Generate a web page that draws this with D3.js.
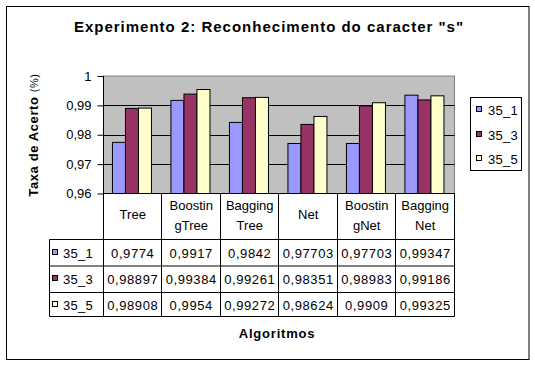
<!DOCTYPE html>
<html>
<head>
<meta charset="utf-8">
<script src="https://cdn.jsdelivr.net/npm/d3@7"></script>
<style>
  body { margin: 0; background: #fff; }
  svg { font-family: "Liberation Sans", Arial, sans-serif; }
</style>
</head>
<body>
<svg id="chart" width="535" height="384"></svg>
<script>
// dados
var categorias = ["Tree", "BoostingTree", "BaggingTree", "Net", "BoostingNet", "BaggingNet"];
var rotulos = [["Tree"], ["Boostin", "gTree"], ["Bagging", "Tree"], ["Net"], ["Boostin", "gNet"], ["Bagging", "Net"]];
var series = ["35_1", "35_3", "35_5"];
var v35_1 = [0.9774, 0.9917, 0.9842, 0.97703, 0.97703, 0.99347];
var v35_3 = [0.98897, 0.99384, 0.99261, 0.98351, 0.98983, 0.99186];
var v35_5 = [0.98908, 0.9954, 0.99272, 0.98624, 0.9909, 0.99325];
var yTicks = [0.96, 0.97, 0.98, 0.99, 1];
var cores = ["#9999FF", "#993366", "#FFFFCC"];

var valores = [v35_1, v35_3, v35_5];

var svg = d3.select("#chart");

// moldura externa
svg.append("rect")
    .attr("x", 6.5).attr("y", 6.5)
    .attr("width", 522.5).attr("height", 353)
    .style("fill", "#fff").style("stroke", "#000").style("stroke-width", 1);

var plotL = 103.5, plotR = 454.5, plotT = 76, plotB = 193.5;

var x0 = d3.scaleBand()
    .domain(categorias)
    .range([plotL, plotR])
    .paddingInner(0.333)
    .paddingOuter(0.1667);
var step = x0.step();

var x1 = d3.scaleBand()
    .domain(series)
    .range([0, x0.bandwidth()]);

var y = d3.scaleLinear()
    .domain([0.96, 1])
    .range([plotB, plotT]);

// titulo
svg.append("text")
    .attr("x", 269)
    .attr("y", 32)
    .attr("text-anchor", "middle")
    .style("font-size", "15px")
    .style("font-weight", "bold")
    .style("letter-spacing", "1px")
    .text('Experimento 2: Reconhecimento do caracter "s"');

// area de plotagem
svg.append("rect")
    .attr("x", plotL).attr("y", plotT)
    .attr("width", plotR - plotL).attr("height", plotB - plotT)
    .style("fill", "#C0C0C0")
    .style("stroke", "#808080");

// linhas de grade
svg.append("g")
    .selectAll("line")
    .data(yTicks.filter(function (d) { return d > 0.96 && d < 1; }))
    .enter()
    .append("line")
    .attr("x1", plotL).attr("x2", plotR)
    .attr("y1", function (d) { return Math.round(y(d)) + 0.5; })
    .attr("y2", function (d) { return Math.round(y(d)) + 0.5; })
    .style("stroke", "#000");

// eixo y
var yAxis = d3.axisLeft(y)
    .tickValues(yTicks)
    .tickSize(6)
    .tickPadding(6)
    .tickFormat(function (d) { return d === 1 ? "1" : d.toFixed(2).replace(".", ","); });

var gy = svg.append("g")
    .attr("transform", "translate(" + plotL + ",0)")
    .call(yAxis);
gy.select(".domain").remove();
gy.selectAll("line").style("stroke", "#000");
gy.selectAll("text")
    .style("font-size", "13px")
    .style("font-family", "Liberation Sans, Arial, sans-serif")
    .style("fill", "#000");
gy.append("line")
    .attr("x1", 0).attr("x2", 0)
    .attr("y1", plotT).attr("y2", plotB)
    .style("stroke", "#000");

// barras
var grupos = svg.append("g")
    .selectAll("g")
    .data(categorias)
    .enter()
    .append("g")
    .attr("transform", function (d) { return "translate(" + (x0(d) - 0.8) + ",0)"; });

grupos.selectAll("rect")
    .data(function (d, i) {
        return series.map(function (s, j) { return { serie: s, valor: valores[j][i], cor: cores[j] }; });
    })
    .enter()
    .append("rect")
    .attr("x", function (d) { return x1(d.serie); })
    .attr("y", function (d) { return y(d.valor); })
    .attr("width", x1.bandwidth())
    .attr("height", function (d) { return plotB - y(d.valor); })
    .style("fill", function (d) { return d.cor; })
    .style("stroke", "#000")
    .style("stroke-width", 1);

// tabela de dados
var linhas = [239.5, 266, 292.5, 316.5];
var tabela = svg.append("g").style("stroke", "#000").style("stroke-width", 1);

tabela.append("line")
    .attr("x1", plotL).attr("x2", plotR)
    .attr("y1", plotB).attr("y2", plotB);
linhas.forEach(function (ly) {
    tabela.append("line")
        .attr("x1", 49.5).attr("x2", plotR)
        .attr("y1", ly).attr("y2", ly);
});
tabela.append("line")
    .attr("x1", 49.5).attr("x2", 49.5)
    .attr("y1", linhas[0]).attr("y2", linhas[3]);
d3.range(categorias.length + 1).forEach(function (k) {
    var lx = Math.round(plotL + k * step - 0.5) + 0.5;
    tabela.append("line")
        .attr("x1", lx).attr("x2", lx)
        .attr("y1", plotB).attr("y2", linhas[3]);
});

// cabecalhos das categorias
categorias.forEach(function (c, i) {
    var cx = plotL + (i + 0.5) * step;
    var ls = rotulos[i];
    var t = svg.append("text")
        .attr("text-anchor", "middle")
        .style("font-size", "13px");
    ls.forEach(function (l, k) {
        t.append("tspan")
            .attr("x", cx)
            .attr("y", (ls.length === 1 ? 219 : 210 + k * 19.5))
            .text(l);
    });
});

// linhas com valores
series.forEach(function (s, j) {
    var y0 = linhas[j], y1 = linhas[j + 1];
    var cy = (y0 + y1) / 2;
    svg.append("rect")
        .attr("x", 52.5).attr("y", Math.round(cy) - 3.5)
        .attr("width", 5).attr("height", 5)
        .style("fill", cores[j]).style("stroke", "#000");
    svg.append("text")
        .attr("x", 63)
        .attr("y", cy + 5)
        .style("font-size", "13px")
        .style("letter-spacing", "0.3px")
        .text(s);
    valores[j].forEach(function (v, i) {
        svg.append("text")
            .attr("x", plotL + (i + 0.5) * step)
            .attr("y", cy + 5)
            .attr("text-anchor", "middle")
            .style("font-size", "13px")
            .style("letter-spacing", "0.6px")
            .text(String(v).replace(".", ","));
    });
});

// titulos dos eixos
svg.append("text")
    .attr("x", 277)
    .attr("y", 338)
    .attr("text-anchor", "middle")
    .style("font-size", "13px")
    .style("font-weight", "bold")
    .style("letter-spacing", "0.8px")
    .text("Algoritmos");

var ty = svg.append("text")
    .attr("transform", "translate(38,135) rotate(-90)")
    .attr("text-anchor", "middle")
    .style("font-size", "13px")
    .style("font-weight", "bold")
    .style("letter-spacing", "0.6px");
ty.append("tspan").text("Taxa de Acerto ");
ty.append("tspan").style("font-weight", "normal").style("font-size", "11px").text("(%)");

// legenda
var leg = svg.append("g");
leg.append("rect")
    .attr("x", 470.5).attr("y", 97.5)
    .attr("width", 51).attr("height", 73)
    .style("fill", "#fff").style("stroke", "#000");
series.forEach(function (s, j) {
    var ly = 110 + j * 24.6;
    leg.append("rect")
        .attr("x", 476.5).attr("y", Math.round(ly) - 3.5)
        .attr("width", 5).attr("height", 5)
        .style("fill", cores[j]).style("stroke", "#000");
    leg.append("text")
        .attr("x", 488)
        .attr("y", ly + 5)
        .style("font-size", "13px")
        .style("letter-spacing", "0.3px")
        .text(s);
});
</script>
</body>
</html>
